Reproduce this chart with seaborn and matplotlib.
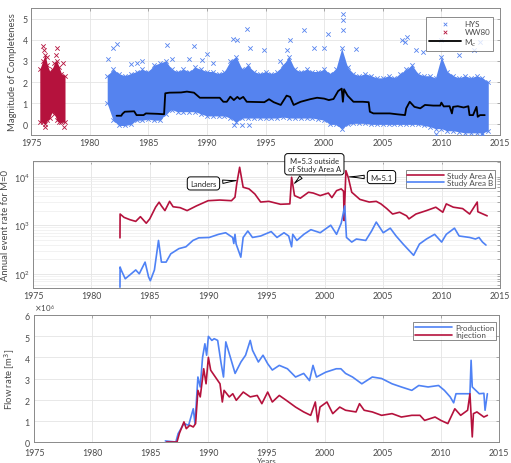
import matplotlib
matplotlib.use("Agg")
import matplotlib.pyplot as plt
import seaborn as sns
import pandas as pd

# ---------------- data ----------------
# Panel 1: magnitude of completeness
hys_yr = [1981.5, 1982.0, 1982.5, 1983.0, 1983.5, 1984.0, 1984.5, 1985.0, 1985.5, 1986.0,
          1986.5, 1987.0, 1987.5, 1988.0, 1988.5, 1989.0, 1989.5, 1990.0, 1990.5, 1991.0,
          1991.5, 1992.0, 1992.5, 1993.0, 1993.5, 1994.0, 1994.5, 1995.0, 1995.5, 1996.0,
          1996.5, 1997.0, 1997.5, 1998.0, 1998.5, 1999.0, 1999.5, 2000.0, 2000.5, 2001.0,
          2001.5, 2002.0, 2002.5, 2003.0, 2003.5, 2004.0, 2004.5, 2005.0, 2005.5, 2006.0,
          2006.5, 2007.0, 2007.5, 2008.0, 2008.5, 2009.0, 2009.5, 2010.0, 2010.5, 2011.0,
          2011.5, 2012.0, 2012.5, 2013.0, 2013.5, 2014.0]
hys_hi = [2.3, 2.6, 2.4, 2.3, 2.4, 2.5, 2.6, 2.5, 2.8, 2.9,
          3.0, 2.6, 2.5, 2.6, 2.5, 2.7, 2.6, 2.5, 2.5, 2.4,
          2.5, 3.0, 3.2, 2.6, 2.8, 2.5, 2.4, 2.5, 2.4, 2.5,
          2.8, 3.2, 2.6, 2.5, 2.6, 2.5, 2.5, 2.6, 2.4, 2.6,
          3.6, 2.7, 2.4, 2.3, 2.4, 2.3, 2.2, 2.2, 2.3, 2.2,
          2.4, 2.6, 2.8, 2.4, 2.3, 2.3, 2.2, 3.2, 2.5, 2.3,
          2.2, 2.3, 2.2, 2.3, 2.2, 2.0]
hys_lo = [1.0, 0.2, -0.05, -0.05, 0.0, 0.2, 0.2, 0.25, 0.2, 0.2,
          0.5, 0.7, 0.6, 0.6, 0.6, 0.6, 0.5, 0.4, 0.4, 0.4,
          0.4, 0.3, 0.1, 0.3, 0.3, 0.3, 0.3, 0.3, 0.3, 0.3,
          0.35, 0.3, 0.3, 0.3, 0.3, 0.3, 0.25, 0.2, 0.0, 0.0,
          -0.2, 0.0, 0.05, 0.05, 0.05, 0.0, 0.0, 0.0, 0.0, 0.0,
          0.0, 0.0, 0.0, 0.0, -0.05, -0.1, -0.2, -0.2, -0.3, -0.3,
          -0.35, -0.4, -0.4, -0.4, -0.4, -0.3]
hys_out_yr = [1981.6, 1982.0, 1982.3, 1983.5, 1984.0, 1984.5, 1986.6, 1987.0, 1988.5, 1988.9,
              1989.6, 1990.0, 1990.5, 1992.2, 1992.6, 1993.4, 1993.7, 1992.3, 1993.0, 1993.6,
              1994.9, 1996.2, 1996.8, 1997.1, 1998.3, 1999.1, 2000.0, 2000.3, 2001.6, 2001.6,
              2001.6, 2002.7, 2006.6, 2006.9, 2007.1, 2007.8, 2008.4, 2010.0, 2011.5, 2012.8,
              2013.3, 2009.5, 2013.5]
hys_out_m = [3.1, 3.6, 3.8, 2.85, 2.9, 3.0, 3.75, 3.1, 3.1, 3.7,
             3.05, 3.35, 2.9, 4.05, 4.0, 4.5, 3.6, -0.05, -0.05, -0.05,
             3.5, 3.0, 3.5, 4.0, 4.45, 3.6, 3.6, 4.25, 5.2, 4.95,
             4.45, 3.55, 4.0, 3.9, 4.15, 3.5, 3.4, 4.0, 3.3, 3.5,
             3.9, -0.45, -0.45]

ww_yr = [1975.75, 1976.0, 1976.2, 1976.4, 1976.6, 1976.8, 1977.0, 1977.2, 1977.4, 1977.6, 1977.9]
ww_lo = [0.1, 0.1, 0.0, 0.2, 0.3, 0.6, 0.5, 0.2, 0.1, 0.1, 0.1]
ww_hi = [2.6, 3.0, 3.3, 2.8, 2.5, 2.6, 2.9, 3.0, 2.7, 2.4, 2.3]
ww_out_yr = [1976.0, 1976.1, 1976.4, 1977.2, 1977.1, 1977.7, 1976.2, 1977.8]
ww_out_m = [3.7, 3.5, 3.2, 3.6, 3.3, 2.9, -0.1, -0.1]

mc_yr = [1982.3, 1982.7, 1982.8, 1983.0, 1983.8, 1984.0, 1984.6, 1984.8, 1985.8, 1986.35,
         1986.45, 1986.8, 1987.8, 1988.3, 1988.9, 1989.4, 1991.1, 1991.4, 1991.7, 1992.0,
         1992.3, 1992.6, 1992.8, 1993.1, 1993.4, 1994.9, 1995.3, 1995.7, 1996.3, 1996.8,
         1997.1, 1997.4, 1998.0, 1998.8, 1999.4, 2000.0, 2000.4, 2000.8, 2001.2, 2001.5,
         2001.6, 2001.7, 2002.0, 2002.5, 2003.3, 2003.8, 2003.9, 2004.2, 2005.6, 2006.2,
         2006.9, 2007.0, 2007.3, 2007.7, 2008.2, 2008.6, 2009.3, 2009.9, 2010.0, 2010.2,
         2010.7, 2010.9, 2011.0, 2011.4, 2011.9, 2012.3, 2012.4, 2012.7, 2013.0, 2013.1,
         2013.3, 2013.7]
mc_val = [0.41, 0.41, 0.5, 0.6, 0.62, 0.44, 0.44, 0.52, 0.5, 0.48,
          1.47, 1.5, 1.51, 1.55, 1.5, 1.26, 1.26, 1.07, 1.07, 1.31,
          1.15, 1.3, 1.2, 1.3, 1.07, 1.05, 1.19, 1.05, 0.92, 1.36,
          1.3, 0.92, 1.07, 1.19, 1.26, 1.22, 1.15, 1.2, 1.58, 1.69,
          1.07, 1.66, 1.36, 1.07, 1.07, 1.05, 0.6, 0.52, 0.52, 0.48,
          0.44, 0.76, 1.07, 0.83, 0.76, 0.92, 0.89, 0.89, 1.03, 0.85,
          0.86, 0.52, 0.83, 0.86, 0.8, 0.86, 0.44, 0.44, 0.83, 0.36,
          0.44, 0.44]

# Panel 2: annual event rate
a_yr = [1982.45, 1982.46, 1982.8, 1983.3, 1983.8, 1984.2, 1984.7, 1985.0, 1985.5, 1985.8,
        1986.0, 1986.3, 1986.7, 1987.0, 1987.6, 1988.2, 1989.0, 1990.0, 1991.0, 1992.0,
        1992.3, 1992.45, 1992.7, 1993.0, 1993.5, 1994.0, 1994.5, 1995.2, 1996.2, 1997.0,
        1997.15, 1997.4, 1997.9, 1998.6, 1999.0, 1999.6, 2000.3, 2000.6, 2001.0, 2001.4,
        2001.6, 2001.65, 2001.8, 2002.0, 2002.3, 2003.0, 2003.8, 2004.4, 2004.8, 2005.3,
        2005.8, 2006.4, 2007.0, 2007.2, 2007.8, 2008.7, 2009.5, 2010.1, 2010.4, 2011.0,
        2011.8, 2012.4, 2013.05, 2013.1, 2013.2, 2013.9]
a_rate = [550, 1700, 1450, 1300, 1200, 1500, 1100, 1350, 2350, 2980,
          2500, 2000, 3100, 2400, 2300, 2000, 2500, 3200, 3300, 3200,
          3780, 7100, 15600, 6050, 5600, 4400, 3000, 3100, 2700, 2750,
          9700, 4070, 3600, 4780, 4600, 4070, 4600, 3700, 5150, 5600,
          5000, 1250, 13300, 9700, 4780, 3400, 3000, 3100, 2750, 2200,
          1700, 1850, 1560, 1350, 1700, 2000, 2350, 1850, 2750, 2350,
          2200, 1700, 3000, 1900, 1850, 1560]
b_yr = [1982.45, 1982.46, 1982.55, 1982.9, 1983.3, 1983.8, 1984.1, 1984.6, 1984.9, 1985.05,
        1985.4, 1985.75, 1986.0, 1986.4, 1986.8, 1987.5, 1988.1, 1988.7, 1989.2, 1990.1,
        1990.9, 1991.5, 1992.1, 1992.2, 1992.3, 1992.4, 1992.8, 1993.0, 1993.4, 1993.8,
        1994.5, 1995.4, 1995.9, 1996.5, 1996.9, 1997.15, 1997.25, 1997.6, 1998.2, 1998.8,
        1999.6, 2000.5, 2001.0, 2001.4, 2001.7, 2001.85, 2002.3, 2002.7, 2003.5, 2004.0,
        2004.4, 2005.0, 2005.6, 2006.1, 2006.7, 2007.6, 2008.1, 2008.7, 2009.4, 2010.0,
        2010.4, 2011.1, 2011.5, 2012.4, 2012.9, 2013.2, 2013.5, 2013.8]
b_rate = [53, 138, 120, 79, 95, 120, 100, 174, 86, 72,
          120, 486, 174, 174, 258, 330, 360, 486, 550, 560,
          650, 700, 560, 420, 650, 410, 220, 560, 760, 560,
          600, 740, 560, 700, 600, 360, 650, 486, 650, 810,
          700, 1000, 650, 1100, 2500, 560, 450, 520, 486, 760,
          1160, 700, 870, 600, 410, 240, 410, 520, 650, 450,
          650, 870, 600, 560, 520, 560, 450, 390]

# Panel 3: flow rate (in units of 1e6 m^3)
p_yr = [1986.3, 1987.2, 1987.4, 1987.9, 1988.3, 1988.7, 1988.85, 1989.1, 1989.3, 1989.5,
        1989.7, 1989.85, 1990.0, 1990.3, 1990.5, 1990.8, 1991.1, 1991.3, 1991.5, 1991.8,
        1992.3, 1992.8, 1993.2, 1993.6, 1993.8, 1994.3, 1994.7, 1995.1, 1995.5, 1996.1,
        1996.8, 1997.5, 1998.2, 1998.7, 1999.0, 1999.3, 2000.1, 2001.0, 2001.4, 2001.8,
        2002.4, 2003.2, 2004.1, 2004.9, 2005.8, 2006.6, 2007.5, 2008.1, 2008.9, 2009.8,
        2010.3, 2010.8, 2011.1, 2011.3, 2012.0, 2012.5, 2012.6, 2012.7, 2013.3, 2013.7,
        2013.8, 2014.0]
p_flow = [0.05, 0.0, 0.4, 0.87, 0.79, 1.57, 0.87, 3.07, 2.6, 4.0,
          4.64, 4.1, 4.99, 4.8, 4.88, 4.8, 3.7, 3.07, 4.73, 4.17,
          3.24, 3.78, 4.1, 4.8, 4.33, 3.78, 4.1, 3.7, 3.4, 3.62,
          3.46, 3.07, 3.24, 2.9, 3.62, 3.07, 3.3, 3.46, 3.46, 3.24,
          3.07, 2.75, 3.07, 3.0, 2.75, 2.6, 2.44, 2.67, 2.6, 2.67,
          2.44, 2.13, 1.85, 2.28, 2.28, 2.28, 3.86, 2.6, 2.28, 2.3,
          1.5, 2.28]
i_yr = [1986.4, 1987.3, 1987.5, 1987.9, 1988.1, 1988.4, 1988.7, 1988.9, 1989.1, 1989.3,
        1989.6, 1989.8, 1990.0, 1990.2, 1990.6, 1991.0, 1991.2, 1991.35, 1991.8, 1992.1,
        1992.4, 1993.0, 1993.6, 1994.2, 1994.6, 1995.1, 1995.5, 1996.1, 1996.7, 1997.5,
        1998.2, 1998.8, 1999.2, 1999.4, 1999.6, 2000.2, 2000.7, 2001.3, 2001.8, 2002.7,
        2003.0, 2003.4, 2004.1, 2004.9, 2005.8, 2006.6, 2007.5, 2008.2, 2008.6, 2009.5,
        2010.0, 2010.6, 2011.2, 2011.7, 2012.3, 2012.5, 2012.7, 2012.8, 2013.1, 2013.7,
        2014.0]
i_flow = [0.0, 0.0, 0.4, 0.95, 0.63, 0.79, 0.71, 0.87, 2.44, 2.13,
          3.46, 2.75, 4.0, 3.39, 3.07, 2.75, 1.89, 2.44, 2.13, 2.28,
          1.97, 2.36, 2.13, 2.2, 1.81, 2.36, 1.89, 2.2, 1.97, 1.65,
          1.42, 1.26, 1.89, 0.95, 1.65, 1.89, 1.34, 1.65, 1.5, 1.42,
          1.81, 1.5, 1.42, 1.26, 1.34, 1.18, 1.26, 1.26, 1.02, 1.18,
          1.02, 0.87, 1.57, 1.26, 1.5, 2.28, 0.24, 1.34, 1.42, 1.18,
          1.26]
FLOW_SCALE = 1e6

years_ticks = [1975, 1980, 1985, 1990, 1995, 2000, 2005, 2010, 2015]

# ---------------- style ----------------
sns.set_theme(style="white")
plt.rcParams["font.family"] = ["Lato", "DejaVu Sans"]
plt.rcParams["mathtext.fontset"] = "dejavusans"

BLUE_SC = "#5583ef"
BLUE = "#4f82f5"
RED = "#b5123d"
TXT = "#4a4a4a"
SPINE = "#8a8a8a"
TICK_FS = 6.3
LAB_FS = 6.8
LEG_FS = 5.8

fig = plt.figure(figsize=(5.11, 4.64), dpi=100)
W, H = 511.0, 464.0


def add_ax(l, r, t, b):
    return fig.add_axes([l / W, 1 - b / H, (r - l) / W, (b - t) / H])


ax1 = add_ax(31, 500, 9, 136)
ax2 = add_ax(33, 500, 162, 289)
ax3 = add_ax(34, 499, 316, 443)


def style(ax):
    ax.set_xlim(1975, 2015)
    ax.set_xticks(years_ticks)
    ax.grid(True, which="major", color="#e4e4e4", lw=0.6)
    ax.set_axisbelow(True)
    for s in ax.spines.values():
        s.set_color(SPINE)
        s.set_linewidth(0.7)
    ax.tick_params(axis="both", which="both", direction="in", top=True, right=True,
                   length=2.5, width=0.5, color=SPINE, labelsize=TICK_FS, labelcolor=TXT, pad=2.5)
    ax.set_xlabel("")


def style_legend(leg):
    leg.get_frame().set_edgecolor("#555555")
    leg.get_frame().set_linewidth(0.6)
    for t in leg.get_texts():
        t.set_color(TXT)


# ---- Panel 1 ----
ax1.fill_between(ww_yr, ww_lo, ww_hi, color=RED, lw=0, zorder=2)
ax1.fill_between(hys_yr, hys_lo, hys_hi, color=BLUE_SC, lw=0, zorder=2)
env = pd.DataFrame({"yr": hys_yr + hys_yr, "m": hys_lo + hys_hi})
sns.scatterplot(data=env, x="yr", y="m", marker="x", s=10, color=BLUE_SC, linewidth=0.6, ax=ax1, zorder=3)
hout = pd.DataFrame({"yr": hys_out_yr, "m": hys_out_m})
sns.scatterplot(data=hout, x="yr", y="m", marker="x", s=10, color=BLUE_SC, linewidth=0.6,
                ax=ax1, zorder=3, label="HYS")
wenv = pd.DataFrame({"yr": ww_yr + ww_yr + ww_out_yr, "m": ww_lo + ww_hi + ww_out_m})
sns.scatterplot(data=wenv, x="yr", y="m", marker="x", s=10, color=RED, linewidth=0.6,
                ax=ax1, zorder=3, label="WW80")
mc = pd.DataFrame({"yr": mc_yr, "mc": mc_val})
sns.lineplot(data=mc, x="yr", y="mc", color="black", lw=1.3, sort=False, estimator=None,
             ax=ax1, zorder=4, label="M$_c$")
style(ax1)
ax1.set_ylim(-0.5, 5.5)
ax1.set_yticks([0, 1, 2, 3, 4, 5])
ax1.set_ylabel("Magnitude of Completeness", fontsize=LAB_FS, color=TXT, labelpad=4)
leg1 = ax1.legend(loc="upper right", bbox_to_anchor=(0.985, 0.929), borderaxespad=0,
                  fontsize=LEG_FS, frameon=True, fancybox=False, handlelength=4.0,
                  labelspacing=0.15, borderpad=0.35, handletextpad=0.4, markerscale=0.8)
style_legend(leg1)

# ---- Panel 2 ----
da = pd.DataFrame({"yr": a_yr, "rate": a_rate})
db = pd.DataFrame({"yr": b_yr, "rate": b_rate})
sns.lineplot(data=da, x="yr", y="rate", color=RED, lw=1.2, sort=False, estimator=None,
             ax=ax2, label="Study Area A")
sns.lineplot(data=db, x="yr", y="rate", color=BLUE, lw=1.2, sort=False, estimator=None,
             ax=ax2, label="Study Area B")
ax2.set_yscale("log")
style(ax2)
ax2.set_ylim(51, 21000)
ax2.grid(True, which="minor", axis="y", color="#ededed", lw=0.5)
ax2.set_ylabel("Annual event rate for M=0", fontsize=LAB_FS, color=TXT, labelpad=3)
leg2 = ax2.legend(loc="upper right", bbox_to_anchor=(0.989, 0.929), borderaxespad=0,
                  fontsize=LEG_FS, frameon=True, fancybox=False, handlelength=4.6,
                  labelspacing=0.05, borderpad=0.2, handletextpad=0.3)
style_legend(leg2)

box = dict(boxstyle="round,pad=0.4", fc="white", ec="black", lw=0.7)
arr = dict(arrowstyle="wedge,tail_width=0.45,shrink_factor=0.4", fc="white", ec="black",
           lw=0.7, shrinkB=0)
ax2.annotate("Landers", xy=(1992.4, 8300), xytext=(1989.6, 7250), ha="center", va="center",
             fontsize=5.5, bbox=box, arrowprops=arr, zorder=6)
ax2.annotate("M=5.3 outside\nof Study Area A", xy=(1997.4, 7300), xytext=(1999.1, 18000),
             ha="center", va="center", fontsize=5.5, bbox=box, arrowprops=arr, zorder=6,
             linespacing=1.2)
ax2.annotate("M=5.1", xy=(2002.1, 9900), xytext=(2004.85, 9800), ha="center", va="center",
             fontsize=5.5, bbox=box, arrowprops=arr, zorder=6)

# ---- Panel 3 ----
dp = pd.DataFrame({"yr": p_yr, "flow": [v * FLOW_SCALE for v in p_flow]})
di = pd.DataFrame({"yr": i_yr, "flow": [v * FLOW_SCALE for v in i_flow]})
sns.lineplot(data=dp, x="yr", y="flow", color=BLUE, lw=1.2, sort=False, estimator=None,
             ax=ax3, label="Production")
sns.lineplot(data=di, x="yr", y="flow", color=RED, lw=1.2, sort=False, estimator=None,
             ax=ax3, label="Injection")
style(ax3)
ax3.tick_params(axis="x", pad=4.5)
ax3.set_ylim(0, 6e6)
ax3.set_yticks([0, 1e6, 2e6, 3e6, 4e6, 5e6, 6e6])
ax3.ticklabel_format(axis="y", style="sci", scilimits=(6, 6), useMathText=True)
ax3.yaxis.get_offset_text().set_fontsize(5.8)
ax3.yaxis.get_offset_text().set_color(TXT)
ax3.set_ylabel("Flow rate [m$^3$]", fontsize=LAB_FS, color=TXT, labelpad=5)
ax3.set_xlabel("Years", fontsize=5.8, color=TXT, labelpad=0)
leg3 = ax3.legend(loc="upper right", bbox_to_anchor=(0.994, 0.945), borderaxespad=0,
                  fontsize=LEG_FS, frameon=True, fancybox=False, handlelength=4.6,
                  labelspacing=0.05, borderpad=0.25, handletextpad=0.3)
style_legend(leg3)

fig.savefig("out.png", dpi=100)
